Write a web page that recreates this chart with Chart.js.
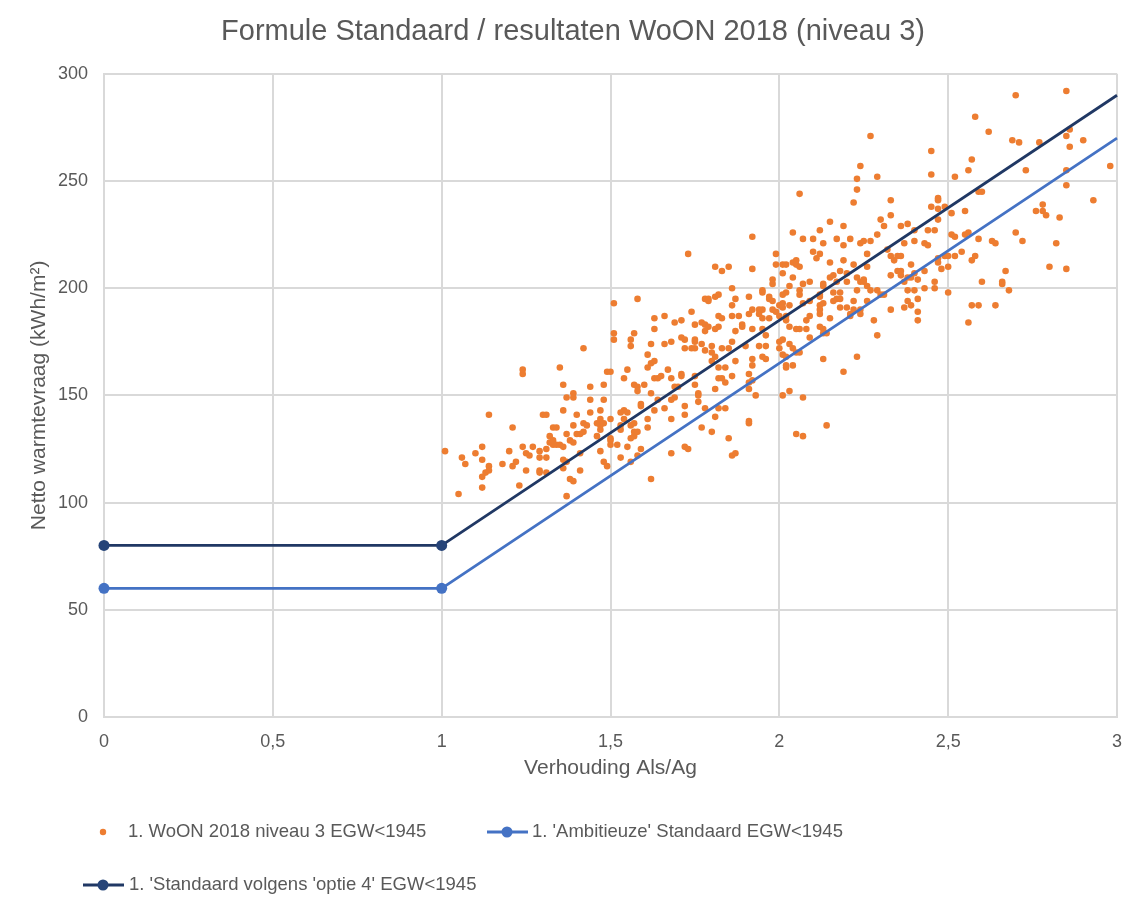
<!DOCTYPE html>
<html>
<head>
<meta charset="utf-8">
<title>Formule Standaard / resultaten WoON 2018</title>
<script src="https://cdn.jsdelivr.net/npm/chart.js@4.4.0/dist/chart.umd.min.js"></script>
<style>
  html, body { margin: 0; padding: 0; background: #ffffff; }
  #wrap { width: 1146px; height: 910px; }
</style>
</head>
<body>
<div id="wrap"><canvas id="chart" width="1146" height="910"></canvas></div>
<script>
// Series labels
const woonLabel = '1. WoON 2018 niveau 3 EGW<1945';
const ambitieusLabel = "1. 'Ambitieuze' Standaard EGW<1945";
const standaardLabel = "1. 'Standaard volgens 'optie 4' EGW<1945";

// Formula lines (Als/Ag -> kWh/m2)
const lineX = [0, 1, 3];
const ambitieusY = [60, 60, 270];
const standaardY = [80, 80, 290];

// Axis ticks
const xTicks = [0, 0.5, 1, 1.5, 2, 2.5, 3];
const yTicks = [0, 50, 100, 150, 200, 250, 300];

// WoON 2018 dwellings, [Als/Ag, netto warmtevraag]
const woonPoints = [
  [1.01,124],[1.05,104],[1.06,121],[1.07,118],[1.10,123],[1.12,107],[1.12,112],[1.12,120],[1.12,126],[1.13,114],
  [1.14,117],[1.14,115],[1.14,141],[1.18,118],[1.20,124],[1.21,135],[1.21,117],[1.22,119],[1.23,108],[1.24,126],
  [1.24,160],[1.24,162],[1.25,123],[1.25,115],[1.26,122],[1.27,126],[1.29,124],[1.29,121],[1.29,115],[1.29,114],
  [1.31,121],[1.31,114],[1.31,125],[1.30,141],[1.31,141],[1.32,131],[1.32,128],[1.33,127],[1.33,129],[1.34,127],
  [1.35,127],[1.33,135],[1.34,135],[1.35,163],[1.36,116],[1.36,155],[1.36,143],[1.36,126],[1.36,120],[1.37,119],
  [1.37,132],[1.37,149],[1.37,103],[1.38,111],[1.39,110],[1.38,129],[1.39,128],[1.39,151],[1.39,149],[1.39,136],
  [1.40,132],[1.41,132],[1.40,141],[1.41,123],[1.41,115],[1.42,172],[1.42,133],[1.42,137],[1.43,136],[1.44,154],
  [1.44,142],[1.44,148],[1.46,131],[1.46,137],[1.47,139],[1.47,136],[1.47,134],[1.48,137],[1.47,143],[1.47,124],
  [1.48,119],[1.48,148],[1.48,155],[1.49,161],[1.50,161],[1.49,117],[1.50,139],[1.50,129],[1.50,130],[1.50,127],
  [1.51,193],[1.51,179],[1.51,176],[1.52,127],[1.53,121],[1.53,134],[1.53,136],[1.54,139],[1.54,143],[1.53,142],
  [1.55,142],[1.54,158],[1.55,162],[1.56,176],[1.56,173],[1.57,179],[1.55,126],[1.56,119],[1.56,130],[1.57,131],
  [1.57,133],[1.56,136],[1.57,137],[1.58,133],[1.57,155],[1.58,154],[1.58,152],[1.60,155],[1.58,195],[1.59,125],
  [1.58,122],[1.59,145],[1.59,146],[1.61,169],[1.61,135],[1.61,139],[1.61,163],[1.62,174],[1.62,165],[1.63,166],
  [1.62,151],[1.63,181],[1.63,186],[1.63,158],[1.64,158],[1.62,111],[1.63,143],[1.64,148],
  [1.73,216],[1.81,210],[1.83,208],[1.85,210],[1.92,224],[1.92,209],[1.86,200],[1.78,195],[1.79,195],[1.79,194],
  [1.81,196],[1.82,197],[1.74,189],[1.86,192],[1.87,195],[1.91,196],[1.66,187],[1.69,184],[1.71,185],[1.75,183],
  [1.77,184],[1.78,183],[1.79,182],[1.78,180],[1.82,187],[1.83,186],[1.82,182],[1.81,181],[1.86,187],[1.88,187],
  [1.89,183],[1.89,182],[1.91,188],[1.92,190],[1.94,190],[1.95,190],[1.94,188],[1.95,186],[1.97,186],[1.92,181],
  [1.95,199],[1.95,198],[1.97,196],[1.86,175],[1.87,180],[1.95,181],[1.96,178],[1.66,174],[1.68,175],[1.71,177],
  [1.72,176],[1.72,172],[1.74,172],[1.75,176],[1.75,175],[1.75,172],[1.77,174],[1.78,171],[1.80,173],[1.80,170],
  [1.83,172],[1.85,172],[1.81,168],[1.87,166],[1.90,173],[1.92,167],[1.92,164],[1.94,173],[1.96,173],[1.95,168],
  [1.96,167],[1.65,159],[1.67,162],[1.68,158],[1.71,160],[1.71,159],[1.75,159],[1.80,166],[1.82,163],[1.84,163],
  [1.86,159],[1.82,158],[1.83,158],[1.84,156],[1.91,160],[1.91,156],[1.92,157],[1.69,154],[1.70,154],[1.75,155],
  [1.76,151],[1.76,150],[1.81,153],[1.91,153],[1.93,150],[1.69,149],[1.68,148],[1.66,144],[1.72,145],[1.72,141],
  [1.68,139],[1.76,147],[1.78,144],[1.81,140],[1.82,144],[1.84,144],[1.77,135],[1.80,133],[1.85,130],[1.91,137],
  [1.91,138],[1.68,123],[1.72,126],[1.73,125],[1.86,122],[1.87,123],
  [2.01,169],[2.02,168],[2.05,170],[2.06,170],[2.02,164],[2.02,163],[2.04,164],[2.13,167],[2.19,161],[2.23,168],
  [2.01,150],[2.03,152],[2.07,149],[2.05,132],[2.07,131],[2.14,136],
  [2.27,271],[2.24,257],[2.23,251],[2.29,252],[2.23,246],[2.22,240],[2.06,244],[2.33,241],[2.15,231],[2.30,232],
  [2.33,234],[2.31,229],[2.04,226],[2.12,227],[2.19,229],[2.07,223],[2.10,223],[2.13,221],[2.17,223],[2.21,223],
  [2.19,220],[2.24,221],[2.25,222],[2.27,222],[2.29,225],[2.10,217],[2.12,216],[2.26,216],[2.11,214],[1.99,216],
  [1.99,211],[2.01,211],[2.02,211],[2.04,212],[2.05,213],[2.05,211],[2.06,210],[2.15,212],[2.19,213],[2.22,211],
  [2.26,210],[2.32,218],[2.33,215],[2.34,213],[2.35,215],[2.01,207],[2.04,205],[1.98,204],[1.98,202],[2.03,201],
  [2.07,202],[2.09,203],[2.15,205],[2.16,206],[2.18,208],[2.20,207],[2.20,203],[2.13,201],[2.13,202],[2.17,203],
  [2.23,205],[2.25,204],[2.24,203],[2.25,203],[2.26,201],[2.27,199],[2.33,206],[2.35,208],[2.01,197],[2.02,198],
  [2.06,199],[2.06,197],[2.12,197],[2.12,196],[2.16,198],[2.18,198],[2.23,199],[2.29,199],[2.30,197],[2.31,197],
  [1.97,195],[1.98,194],[2.00,192],[2.01,193],[2.01,191],[2.03,192],[2.07,193],[2.09,194],[2.12,192],[2.13,193],
  [2.12,190],[2.12,188],[2.17,195],[2.18,195],[2.16,194],[2.20,191],[2.22,194],[2.22,190],[2.21,188],[2.21,187],
  [2.24,190],[2.24,188],[2.26,194],[2.28,185],[2.29,178],[2.33,190],[1.98,190],[1.99,189],[2.00,187],[2.02,187],
  [2.02,185],[2.03,182],[2.05,181],[2.06,181],[2.08,181],[2.08,185],[2.09,187],[2.12,182],[2.13,181],[2.13,179],
  [2.14,179],[2.15,186],[2.18,191],[2.09,177],[2.00,175],[2.01,176],[2.03,174],[2.00,172],[2.04,172],
  [2.85,292],[2.70,290],[2.58,280],[2.62,273],[2.69,269],[2.71,268],[2.77,268],[2.86,274],[2.85,271],[2.86,266],
  [2.90,269],[2.45,264],[2.57,260],[2.56,255],[2.45,253],[2.52,252],[2.73,255],[2.85,255],[2.98,257],[2.85,248],
  [2.93,241],[2.59,245],[2.60,245],[2.47,242],[2.47,241],[2.45,238],[2.47,237],[2.49,238],[2.51,235],[2.55,236],
  [2.47,232],[2.78,239],[2.76,236],[2.78,236],[2.79,234],[2.83,233],[2.36,229],[2.38,230],[2.40,227],[2.44,227],
  [2.46,227],[2.51,225],[2.52,224],[2.55,225],[2.56,226],[2.59,223],[2.70,226],[2.82,221],[2.37,221],[2.40,222],
  [2.43,221],[2.44,220],[2.63,222],[2.64,221],[2.72,222],[2.36,215],[2.54,217],[2.58,215],[2.57,213],[2.47,214],
  [2.47,212],[2.49,215],[2.50,215],[2.52,215],[2.39,211],[2.48,209],[2.50,210],[2.36,208],[2.36,206],[2.40,207],
  [2.43,208],[2.39,205],[2.38,205],[2.37,203],[2.41,204],[2.46,203],[2.46,200],[2.43,200],[2.38,199],[2.40,199],
  [2.50,198],[2.60,203],[2.67,208],[2.66,203],[2.66,202],[2.68,199],[2.80,210],[2.85,209],[2.41,195],[2.38,194],
  [2.37,191],[2.39,192],[2.41,189],[2.41,185],[2.57,192],[2.59,192],[2.56,184],[2.64,192]
];

const textGray = '#595959';
const gridGray = '#d9d9d9';
Chart.defaults.font.family = "'Liberation Sans', Arial, Helvetica, sans-serif";
Chart.defaults.color = textGray;

// Legend below the chart, laid out like the Excel original (two rows)
const legendSpots = [
  { x: 103, y: 832, textX: 128, kind: 'dot' },
  { x: 507, y: 832, textX: 532, kind: 'line' },
  { x: 103, y: 885, textX: 129, kind: 'line' }
];

const bottomLegend = {
  id: 'bottomLegend',
  afterDraw(chart) {
    const ctx = chart.ctx;
    ctx.save();
    ctx.font = "18.5px 'Liberation Sans', Arial, sans-serif";
    ctx.textBaseline = 'middle';
    ctx.textAlign = 'left';
    chart.data.datasets.forEach((ds, i) => {
      const spot = legendSpots[i];
      if (spot.kind === 'dot') {
        ctx.fillStyle = ds.backgroundColor;
        ctx.beginPath();
        ctx.arc(spot.x, spot.y, 3.2, 0, Math.PI * 2);
        ctx.fill();
      } else {
        ctx.strokeStyle = ds.borderColor;
        ctx.lineWidth = 3;
        ctx.beginPath();
        ctx.moveTo(spot.x - 20, spot.y);
        ctx.lineTo(spot.x + 21, spot.y);
        ctx.stroke();
        ctx.fillStyle = ds.backgroundColor;
        ctx.beginPath();
        ctx.arc(spot.x, spot.y, 5.5, 0, Math.PI * 2);
        ctx.fill();
      }
      ctx.fillStyle = textGray;
      ctx.fillText(ds.label, spot.textX, spot.y);
    });
    ctx.restore();
  }
};

const toXY = (xs, ys) => xs.map((x, i) => ({ x: x, y: ys[i] }));

const ctx = document.getElementById('chart').getContext('2d');
const chart = new Chart(ctx, {
  type: 'scatter',
  data: {
    datasets: [
      {
        label: woonLabel,
        data: woonPoints.map(p => ({ x: p[0], y: p[1] })),
        backgroundColor: '#ED7D31',
        borderWidth: 0,
        pointRadius: 3.3,
        order: 3
      },
      {
        label: ambitieusLabel,
        data: toXY(lineX, ambitieusY),
        showLine: true,
        clip: false,
        borderColor: '#4472C4',
        backgroundColor: '#4472C4',
        borderWidth: 2.75,
        pointRadius: [5.5, 5.5, 0],
        pointBorderWidth: 0,
        order: 2
      },
      {
        label: standaardLabel,
        data: toXY(lineX, standaardY),
        showLine: true,
        clip: false,
        borderColor: '#203864',
        backgroundColor: '#264478',
        borderWidth: 2.75,
        pointRadius: [5.5, 5.5, 0],
        pointBorderWidth: 0,
        order: 1
      }
    ]
  },
  options: {
    responsive: false,
    animation: false,
    // equal side padding keeps the title centred on the canvas
    layout: { padding: { left: 29, right: 29, top: 0, bottom: 125 } },
    scales: {
      x: {
        type: 'linear',
        min: 0,
        max: 3,
        afterBuildTicks: scale => { scale.ticks = xTicks.map(v => ({ value: v })); },
        afterFit: scale => { scale.height = 68; },
        ticks: {
          padding: 14,
          color: textGray,
          font: { size: 18 },
          callback: v => String(v).replace('.', ',')
        },
        grid: { color: gridGray, lineWidth: 2, drawTicks: false },
        border: { color: gridGray, width: 2 },
        title: {
          display: true,
          text: 'Verhouding Als/Ag',
          color: textGray,
          font: { size: 21 },
          padding: { top: 0, bottom: 4 }
        }
      },
      y: {
        type: 'linear',
        min: 0,
        max: 300,
        afterBuildTicks: scale => { scale.ticks = yTicks.map(v => ({ value: v })); },
        afterFit: scale => { scale.width = 75; },
        ticks: { padding: 16, color: textGray, font: { size: 18 } },
        grid: { color: gridGray, lineWidth: 2, drawTicks: false },
        border: { color: gridGray, width: 2 },
        title: {
          display: true,
          text: 'Netto warmtevraag (kWh/m²)',
          color: textGray,
          font: { size: 21 },
          padding: { top: -2, bottom: 0 }
        }
      }
    },
    plugins: {
      legend: { display: false },
      tooltip: { enabled: false },
      title: {
        display: true,
        text: 'Formule Standaard / resultaten WoON 2018 (niveau 3)',
        color: textGray,
        font: { size: 29, weight: 'normal' },
        padding: { top: 15, bottom: 24 }
      }
    }
  },
  plugins: [bottomLegend]
});
</script>
</body>
</html>
